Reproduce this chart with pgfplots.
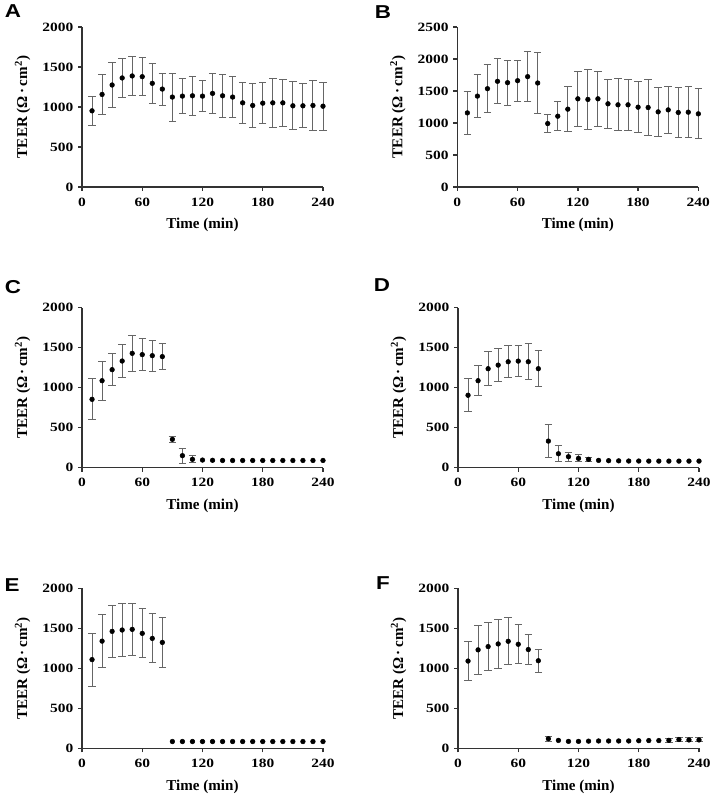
\documentclass[border=0pt]{standalone}
\usepackage{fontspec}
\setmainfont{Liberation Serif}
\newfontfamily\tickfont{Liberation Serif}[FakeStretch=1.22]
\newfontfamily\panelfont{Liberation Sans}[FakeStretch=1.2]
\usepackage{pgfplots}
\pgfplotsset{compat=1.18}

\definecolor{barc}{HTML}{666666}
\definecolor{axc}{HTML}{333333}

\pgfplotsset{
  panel/.style={
    scale only axis, width=180.75pt, height=120pt,
    xmin=0, xmax=240, ymin=0, ymax=2000,
    axis x line*=bottom, axis y line*=left,
    axis line style={-, line width=1pt, axc},
    xtick={0,60,...,240}, ytick={0,500,...,2000},
    tick align=outside, major tick length=3pt,
    tick style={line width=1pt, axc},
    clip=false,
    xlabel={Time (min)},
    ylabel={TEER (Ω\,·\,cm\textsuperscript{2})},
    label style={font=\bfseries\fontsize{11.3}{12}\selectfont},
    xlabel style={at={(axis description cs:0.5,-0.2625)}, anchor=base},
    ylabel style={at={(axis description cs:-0.228,0.5)}, anchor=base, rotate=0},
    tick label style={font=\tickfont\bfseries\fontsize{9.5}{11}\selectfont},
    xticklabel style={yshift=-1.5pt},
    /pgf/number format/assume math mode=true,
    /pgf/number format/set thousands separator={},
  },
  pts/.style={only marks, mark=*, mark size=1.75pt, black},
  errs/.style={pts, error bars/.cd, y dir=both, y explicit,
    error bar style={barc, line width=0.75pt},
    error mark options={barc, line width=0.75pt, mark size=2.8pt, rotate=90}},
}

\begin{document}
\begin{tikzpicture}
\useasboundingbox (0,0) rectangle (535.5pt,596.25pt);

% A
\begin{axis}[panel, at={(61.5pt,456pt)}, anchor=south west]
\addplot[errs] table[x=x, y=y, y error=e] {
x y e
10 952 185
20 1157 247
30 1275 280
40 1363 242
50 1388 248
60 1379 235
70 1296 248
80 1224 200
90 1124 300
100 1136 218
110 1140 243
120 1136 195
130 1170 250
140 1140 266
150 1124 254
160 1052 254
170 1019 275
180 1048 252
190 1052 308
200 1052 294
210 1015 300
220 1015 275
230 1019 317
240 1010 302
};
\end{axis}

% B
\begin{axis}[panel, at={(343pt,456pt)}, anchor=south west, ymax=2500, ytick={0,500,...,2500}]
\addplot[errs] table[x=x, y=y, y error=e] {
x y e
10 1158 333
20 1420 340
30 1536 375
40 1651 351
50 1630 351
60 1661 320
70 1724 393
80 1625 472
90 991 142
100 1106 230
110 1216 348
120 1378 430
130 1368 463
140 1378 432
150 1300 385
160 1284 406
170 1284 401
180 1247 396
190 1242 435
200 1174 383
210 1205 367
220 1164 398
230 1169 395
240 1143 390
};
\end{axis}

% C
\begin{axis}[panel, at={(61.5pt,245.5pt)}, anchor=south west]
\addplot[errs] table[x=x, y=y, y error=e] {
x y e
10 854 256
20 1087 243
30 1225 198
40 1333 205
50 1429 221
60 1413 196
70 1400 192
80 1388 160
90 354 40
100 150 92
110 104 42
};
\addplot[pts] table[x=x, y=y] {
x y
120 95
130 92
140 90
150 90
160 90
170 90
180 90
190 90
200 90
210 90
220 90
230 90
240 90
};
\end{axis}

% D
\begin{axis}[panel, at={(343.5pt,245.5pt)}, anchor=south west]
\addplot[errs] table[x=x, y=y, y error=e] {
x y e
10 905 207
20 1087 185
30 1237 210
40 1282 211
50 1324 200
60 1332 193
70 1324 222
80 1237 224
90 332 203
100 174 103
110 137 58
120 116 45
130 104 29
};
\addplot[pts] table[x=x, y=y] {
x y
140 91
150 87
160 85
170 83
180 83
190 82
200 82
210 82
220 82
230 82
240 82
};
\end{axis}

% E
\begin{axis}[panel, at={(61.5pt,35pt)}, anchor=south west]
\addplot[errs] table[x=x, y=y, y error=e] {
x y e
10 1109 330
20 1340 334
30 1462 323
40 1479 328
50 1487 328
60 1437 305
70 1374 306
80 1324 315
};
\addplot[pts] table[x=x, y=y] {
x y
90 85
100 85
110 85
120 85
130 85
140 85
150 85
160 85
170 85
180 85
190 85
200 85
210 85
220 85
230 85
240 85
};
\end{axis}

% F
\begin{axis}[panel, at={(343.5pt,35pt)}, anchor=south west]
\addplot[errs] table[x=x, y=y, y error=e] {
x y e
10 1091 245
20 1231 305
30 1272 300
40 1305 303
50 1338 293
60 1301 243
70 1235 192
80 1095 144
90 120 33
210 100 22
220 110 30
230 105 25
240 105 25
};
\addplot[pts] table[x=x, y=y] {
x y
100 99
110 87
120 87
130 90
140 92
150 92
160 92
170 92
180 95
190 97
200 97
};
\end{axis}

\tikzset{lab/.style={font=\panelfont\bfseries\fontsize{14}{14}\selectfont, anchor=center, inner sep=0pt}}
\node[lab] at (9.75pt,588pt) {A};
\node[lab] at (287.25pt,587.25pt) {B};
\node[lab] at (9.75pt,381pt) {C};
\node[lab] at (286.5pt,382.5pt) {D};
\node[lab] at (9pt,157.5pt) {E};
\node[lab] at (287.25pt,159pt) {F};
\end{tikzpicture}
\end{document}
